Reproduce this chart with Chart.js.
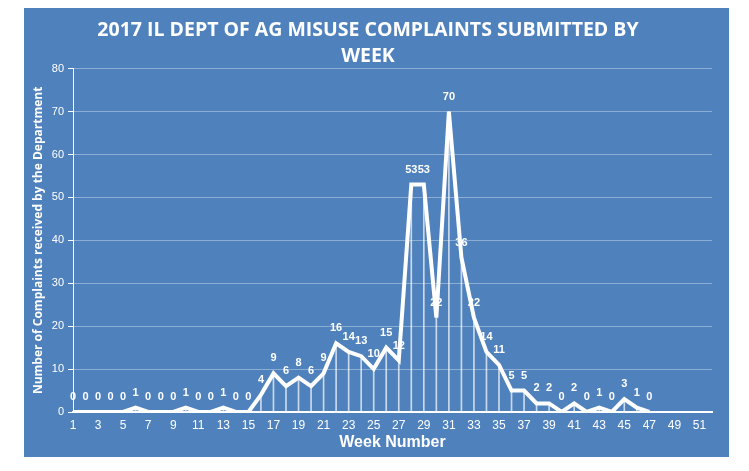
<!DOCTYPE html>
<html><head><meta charset="utf-8">
<script src="https://cdn.jsdelivr.net/npm/chart.js@4.4.0/dist/chart.umd.min.js"></script>
<style>
html,body{margin:0;padding:0;background:#fff;}
#wrap{position:absolute;left:24px;top:8px;width:705px;height:449px;background:#4F81BD;}
</style></head>
<body>
<div id="wrap"><canvas id="c" width="705" height="449"></canvas></div>
<script>
const weeks = Array.from({length: 52}, (_, i) => String(i + 1));
const complaints = [0,0,0,0,0,1,0,0,0,1,0,0,1,0,0,4,9,6,8,6,9,16,14,13,10,15,12,53,53,22,70,36,22,14,11,5,5,2,2,0,2,0,1,0,3,1,0];
const yTicks = [0,10,20,30,40,50,60,70,80];
const titleLines = ['2017 IL DEPT OF AG MISUSE COMPLAINTS SUBMITTED BY', 'WEEK'];
const xTitle = 'Week Number';
const yTitle = 'Number of Complaints received by the Department';

const labelPlugin = {
  id: 'pointLabels',
  afterDatasetsDraw(chart) {
    const meta = chart.getDatasetMeta(1);
    const ctx = chart.ctx;
    ctx.save();
    ctx.fillStyle = '#fff';
    ctx.font = 'bold 11px "Liberation Sans", Arial, sans-serif';
    ctx.textAlign = 'center';
    ctx.textBaseline = 'middle';
    meta.data.forEach((pt, i) => {
      ctx.fillText(String(complaints[i]), pt.x, pt.y - 15);
    });
    ctx.restore();
  }
};

new Chart(document.getElementById('c'), {
  type: 'line',
  data: {
    labels: weeks,
    datasets: [
      {
        type: 'bar',
        data: complaints,
        backgroundColor: 'rgba(255,255,255,0.7)',
        barThickness: 1,
        order: 2
      },
      {
        type: 'line',
        data: complaints,
        borderColor: '#fff',
        borderWidth: 4,
        pointRadius: 0,
        tension: 0,
        order: 1
      }
    ]
  },
  options: {
    responsive: false,
    animation: false,
    layout: { padding: { left: 0, right: 17, top: 0, bottom: 2 } },
    plugins: {
      legend: { display: false },
      tooltip: { enabled: false },
      title: {
        display: true,
        text: titleLines,
        color: '#fff',
        font: { family: '"Liberation Sans Narrow", "Open Sans", sans-serif', size: 19.5, weight: 'bold', lineHeight: 1.3 },
        padding: { top: 10, bottom: 0 }
      }
    },
    scales: {
      x: {
        type: 'category',
        offset: false,
        grid: { display: false, offset: false, drawTicks: false },
        border: { color: '#fff', width: 2 },
        ticks: {
          color: '#fff',
          font: { family: '"Liberation Sans", Arial, sans-serif', size: 12 },
          autoSkip: false,
          maxRotation: 0,
          padding: 6,
          callback: (v, i) => (i % 2 === 0 ? weeks[i] : '')
        },
        title: {
          display: true, text: xTitle, color: '#fff',
          font: { family: '"Liberation Sans", Arial, sans-serif', size: 16, weight: 'bold' },
          padding: { top: 0, bottom: 3 }
        },
        afterFit: s => { s.height = 43; }
      },
      y: {
        min: 0, max: 80,
        afterBuildTicks: s => { s.ticks = yTicks.map(v => ({ value: v })); },
        grid: { color: 'rgba(255,255,255,0.35)', tickColor: '#fff', tickLength: 5 },
        border: { color: '#fff', width: 1 },
        ticks: {
          color: '#fff',
          font: { family: '"Liberation Sans", Arial, sans-serif', size: 11 },
          padding: 4
        },
        title: {
          display: true, text: yTitle, color: '#fff',
          font: { family: '"Liberation Sans Narrow", "Open Sans", sans-serif', size: 12, weight: 'bold' },
          padding: { top: 7, bottom: 0 }
        },
        afterFit: s => { s.width = 49; }
      }
    }
  },
  plugins: [labelPlugin]
});
</script>
</body></html>
